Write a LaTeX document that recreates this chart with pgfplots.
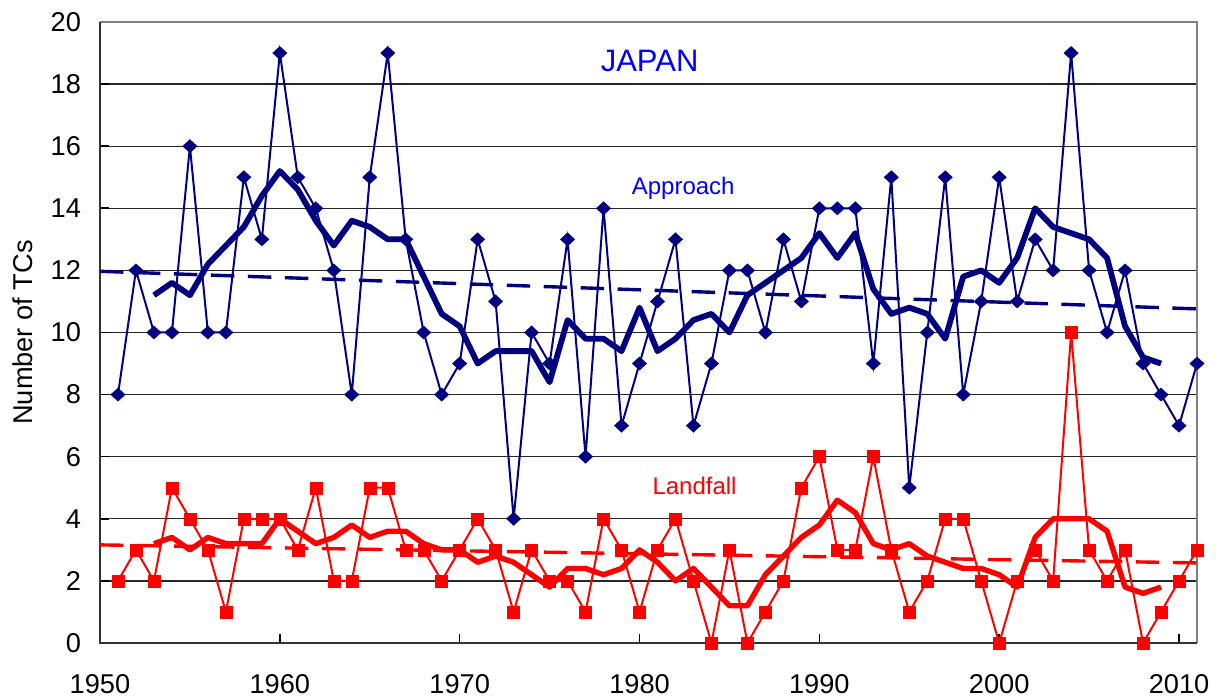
\documentclass[border=0pt]{standalone}
\usepackage{fontspec}
\setmainfont{Liberation Sans}
\usepackage{pgfplots}
\pgfplotsset{compat=1.18}
\usepackage{pgfplotstable}
\definecolor{navy}{RGB}{0,0,128}
\definecolor{pblue}{RGB}{0,0,255}
\definecolor{pred}{RGB}{255,0,0}

% yearly counts of TCs approaching / landfalling Japan
\pgfplotstableread{
year app land
1951 8 2
1952 12 3
1953 10 2
1954 10 5
1955 16 4
1956 10 3
1957 10 1
1958 15 4
1959 13 4
1960 19 4
1961 15 3
1962 14 5
1963 12 2
1964 8 2
1965 15 5
1966 19 5
1967 13 3
1968 10 3
1969 8 2
1970 9 3
1971 13 4
1972 11 3
1973 4 1
1974 10 3
1975 9 2
1976 13 2
1977 6 1
1978 14 4
1979 7 3
1980 9 1
1981 11 3
1982 13 4
1983 7 2
1984 9 0
1985 12 3
1986 12 0
1987 10 1
1988 13 2
1989 11 5
1990 14 6
1991 14 3
1992 14 3
1993 9 6
1994 15 3
1995 5 1
1996 10 2
1997 15 4
1998 8 4
1999 11 2
2000 15 0
2001 11 2
2002 13 3
2003 12 2
2004 19 10
2005 12 3
2006 10 2
2007 12 3
2008 9 0
2009 8 1
2010 7 2
2011 9 3
}\counts

% 5-year running means
\pgfplotstableread{
year app land
1953 11.2 3.2
1954 11.6 3.4
1955 11.2 3.0
1956 12.2 3.4
1957 12.8 3.2
1958 13.4 3.2
1959 14.4 3.2
1960 15.2 4.0
1961 14.6 3.6
1962 13.6 3.2
1963 12.8 3.4
1964 13.6 3.8
1965 13.4 3.4
1966 13.0 3.6
1967 13.0 3.6
1968 11.8 3.2
1969 10.6 3.0
1970 10.2 3.0
1971 9.0 2.6
1972 9.4 2.8
1973 9.4 2.6
1974 9.4 2.2
1975 8.4 1.8
1976 10.4 2.4
1977 9.8 2.4
1978 9.8 2.2
1979 9.4 2.4
1980 10.8 3.0
1981 9.4 2.6
1982 9.8 2.0
1983 10.4 2.4
1984 10.6 1.8
1985 10.0 1.2
1986 11.2 1.2
1987 11.6 2.2
1988 12.0 2.8
1989 12.4 3.4
1990 13.2 3.8
1991 12.4 4.6
1992 13.2 4.2
1993 11.4 3.2
1994 10.6 3.0
1995 10.8 3.2
1996 10.6 2.8
1997 9.8 2.6
1998 11.8 2.4
1999 12.0 2.4
2000 11.6 2.2
2001 12.4 1.8
2002 14.0 3.4
2003 13.4 4.0
2004 13.2 4.0
2005 13.0 4.0
2006 12.4 3.6
2007 10.2 1.8
2008 9.2 1.6
2009 9.0 1.8
}\runmean

\begin{document}
\begin{tikzpicture}
\begin{axis}[
  scale only axis,
  width=548.5pt, height=310.5pt,
  xmin=1950, xmax=2011,
  ymin=0, ymax=20,
  xtick={1950,1960,...,2010},
  ytick={0,2,...,20},
  xtick pos=bottom, ytick pos=left,
  tick align=inside,
  major tick length=4.5pt,
  tick style={black, line width=0.8pt},
  axis line style={draw=none},
  ymajorgrids,
  major grid style={black!85, line width=0.6pt},
  ticklabel style={font=\fontsize{13.6}{16}\selectfont},
  xticklabel style={yshift=-12pt},
  yticklabel style={xshift=-6pt},
  /pgf/number format/.cd, 1000 sep={}, assume math mode=true,
  /pgfplots/.cd,
  ylabel={Number of TCs},
  ylabel style={font=\fontsize{13.6}{16}\selectfont, at={(axis description cs:-0.0702,0.5)}, anchor=center},
  clip=false,
]
% frame
\draw[gray, line width=1pt] (rel axis cs:0,1) -- (rel axis cs:1,1) -- (rel axis cs:1,0);
\draw[black!80, line width=1pt] (rel axis cs:0,1) -- (rel axis cs:0,0) -- (rel axis cs:1,0);

% trends
\addplot[navy, line width=1.7pt, dash pattern=on 11.7pt off 6.8pt] coordinates {(1950,11.97) (2011,10.76)};
\addplot[pred, line width=1.7pt, dash pattern=on 11.7pt off 6.8pt] coordinates {(1950,3.16) (2011,2.58)};

% yearly values
\addplot[navy, line width=1pt, mark=diamond*, mark size=3.3pt, mark options={xscale=1.45, fill=navy, line width=0.2pt}] table[x=year, y=app] {\counts};
\addplot[pred, line width=1pt, mark=square*, mark size=3pt, mark options={fill=pred, line width=0.2pt}] table[x=year, y=land] {\counts};

% running means
\addplot[navy, line width=2.9pt, line join=round] table[x=year, y=app] {\runmean};
\addplot[pred, line width=2.7pt, line join=round] table[x=year, y=land] {\runmean};

\node[pblue, font=\fontsize{15.5}{18}\selectfont] at (axis cs:1980.56,18.73) {JAPAN};
\node[pblue, font=\fontsize{12}{14}\selectfont, anchor=base] at (axis cs:1982.43,14.45) {Approach};
\node[pred, font=\fontsize{12}{14}\selectfont, anchor=base] at (axis cs:1983.06,4.79) {Landfall};
\end{axis}
\pgfresetboundingbox
\path ([shift={(-50pt,-28pt)}]current axis.south west) rectangle ([shift={(10pt,11pt)}]current axis.north east);
\end{tikzpicture}
\end{document}
